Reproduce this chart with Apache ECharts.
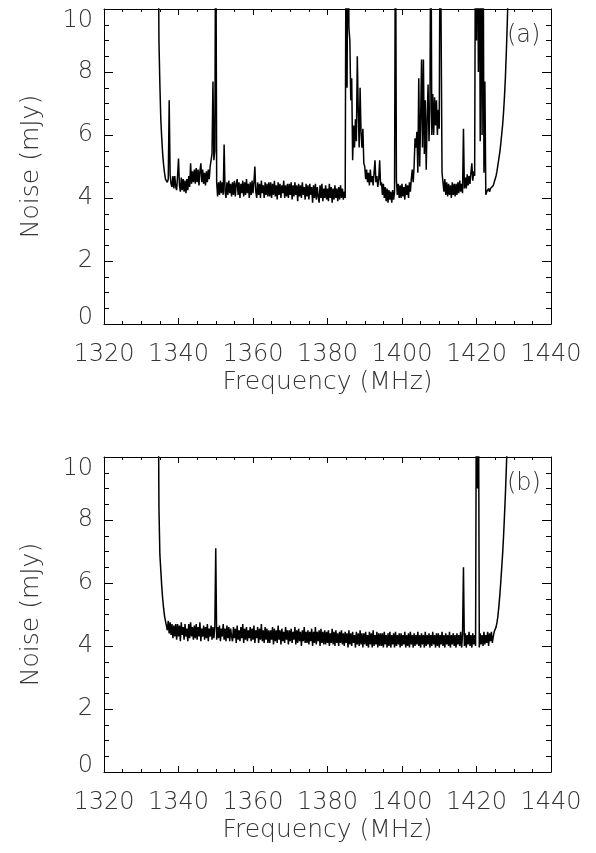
<!DOCTYPE html>
<html>
<head>
<meta charset="utf-8">
<script src="https://cdn.jsdelivr.net/npm/echarts@6/dist/echarts.min.js"></script>
<style>
  html, body { margin: 0; padding: 0; background: #fff; }
  #chart { width: 596px; height: 853px; }
</style>
</head>
<body>
<div id="chart"></div>
<script>
const FREQ_RANGE = [1320, 1440];
const FREQ_TICK = 20;
const NOISE_RANGE = [0, 10];
const NOISE_TICK = 2;

// each row holds 20 channels of 0.25 MHz, rows start every 5 MHz
const ROW_START = 1334.5;
const ROW_WIDTH = 5;
const CHANNEL_WIDTH = 0.25;

// (a) noise per channel
const noiseA = [
  [14, 9.0, 7.6, 6.5, 5.9, 5.4, 5.05, 4.8, 4.6, 4.55, 4.5, 4.6, 7.1, 4.75, 4.45, 4.35, 4.7, 4.3, 4.7, 4.35], // 1334.5
  [4.25, 4.7, 5.25, 4.4, 4.2, 4.65, 4.25, 4.6, 4.2, 4.55, 4.15, 4.6, 4.25, 4.7, 4.35, 5.1, 4.45, 4.85, 4.5, 4.9], // 1339.5
  [4.45, 4.95, 4.5, 4.9, 4.4, 4.85, 5.1, 4.5, 4.9, 4.45, 4.8, 4.4, 4.85, 4.5, 4.9, 4.6, 5.0, 5.2, 5.4, 7.7], // 1344.5
  [5.2, 5.5, 14, 4.5, 4.05, 4.5, 4.1, 4.55, 4.15, 4.5, 4.1, 5.7, 4.2, 4.0, 4.5, 4.1, 4.55, 4.15, 4.45, 4.05], // 1349.5
  [4.5, 4.1, 4.55, 4.05, 4.45, 4.6, 4.1, 4.5, 4.0, 4.45, 4.15, 4.55, 4.05, 4.5, 4.1, 4.6, 4.15, 4.45, 4.0, 4.5], // 1354.5
  [4.1, 4.55, 4.15, 4.5, 5.0, 4.2, 4.0, 4.5, 4.1, 4.45, 4.0, 4.55, 4.15, 4.4, 4.0, 4.5, 4.1, 4.45, 4.05, 4.5], // 1359.5
  [4.05, 4.5, 4.0, 4.45, 4.1, 4.55, 4.05, 4.4, 3.95, 4.5, 4.1, 4.45, 4.0, 4.4, 4.15, 4.55, 4.0, 4.4, 4.05, 4.45], // 1364.5
  [4.0, 4.45, 4.1, 4.5, 3.95, 4.4, 4.05, 4.5, 4.1, 4.4, 3.9, 4.45, 4.05, 4.4, 4.0, 4.5, 4.1, 4.35, 3.95, 4.45], // 1369.5
  [4.05, 4.4, 3.95, 4.45, 4.1, 4.35, 3.85, 4.4, 4.0, 4.45, 3.95, 4.35, 4.05, 3.85, 4.4, 4.0, 4.45, 3.9, 4.3, 4.0], // 1374.5
  [4.4, 3.95, 4.3, 3.9, 4.45, 4.0, 4.35, 3.85, 4.3, 3.95, 4.4, 4.0, 4.3, 3.9, 4.35, 3.95, 4.4, 4.0, 4.3, 3.95], // 1379.5
  [4.2, 4.0, 14, 7.5, 14, 9.4, 9.0, 7.1, 7.8, 5.2, 6.3, 5.6, 6.5, 5.8, 8.5, 6.8, 5.6, 7.5, 6.1, 5.6], // 1384.5
  [6.2, 5.1, 5.0, 4.6, 4.9, 4.5, 4.8, 4.4, 4.9, 4.5, 4.7, 4.4, 4.8, 5.2, 4.5, 4.7, 4.35, 4.6, 5.2, 4.4], // 1389.5
  [4.5, 4.1, 4.45, 4.0, 4.35, 3.9, 4.3, 3.85, 4.25, 3.95, 4.2, 3.85, 4.25, 3.95, 4.2, 14, 4.55, 4.1, 4.45, 4.0], // 1394.5
  [4.4, 4.0, 4.45, 4.05, 4.35, 3.95, 4.45, 4.1, 4.4, 4.0, 4.5, 4.2, 4.6, 4.9, 4.5, 5.0, 5.9, 5.6, 6.1, 4.8], // 1399.5
  [7.8, 5.0, 6.5, 8.4, 5.6, 8.4, 5.4, 7.1, 4.9, 6.5, 7.6, 5.8, 6.8, 14, 6.0, 7.3, 6.0, 7.2, 6.3, 7.1], // 1404.5
  [6.0, 6.8, 6.2, 14, 14, 4.8, 4.5, 4.2, 4.6, 4.1, 4.5, 4.05, 4.45, 4.1, 4.4, 4.0, 4.5, 4.1, 4.45, 4.05], // 1409.5
  [4.45, 4.1, 4.5, 4.15, 4.55, 4.2, 4.45, 4.15, 6.2, 4.3, 4.65, 4.3, 4.75, 4.4, 4.7, 4.45, 4.8, 5.1, 4.55, 4.85], // 1414.5
  [4.7, 14, 9.0, 14, 8.0, 14, 5.8, 14, 6.0, 14, 4.8, 7.7, 4.1, 4.2, 4.15, 4.3, 4.2, 4.3, 4.25, 4.35], // 1419.5
  [4.4, 4.5, 4.55, 4.7, 4.85, 5.05, 5.25, 5.45, 5.7, 6.0, 6.3, 6.7, 7.2, 7.8, 8.6, 9.5, 10.6, 12] // 1424.5
];

// (b) noise per channel
const noiseB = [
  [14, 8.4, 6.9, 6.4, 5.9, 5.5, 5.2, 4.95, 4.8, 4.75, 4.5, 4.8, 4.4, 4.75, 4.35, 4.7, 4.25, 4.65, 4.3, 4.7], // 1334.5
  [4.2, 4.7, 4.3, 4.65, 4.15, 4.75, 4.35, 4.6, 4.2, 4.7, 4.3, 4.55, 4.15, 4.7, 4.25, 4.75, 4.3, 4.6, 4.2, 4.65], // 1339.5
  [4.25, 4.7, 4.2, 4.6, 4.3, 4.75, 4.15, 4.55, 4.3, 4.65, 4.2, 4.6, 4.25, 4.7, 4.15, 4.55, 4.3, 4.65, 4.2, 4.6], // 1344.5
  [4.25, 4.6, 7.1, 4.2, 4.6, 4.25, 4.65, 4.15, 4.55, 4.3, 4.7, 4.2, 4.55, 4.15, 4.65, 4.25, 4.6, 4.15, 4.55, 4.3], // 1349.5
  [4.15, 4.6, 4.25, 4.55, 4.1, 4.65, 4.2, 4.5, 4.15, 4.6, 4.25, 4.7, 4.1, 4.55, 4.2, 4.6, 4.15, 4.5, 4.25, 4.6], // 1354.5
  [4.15, 4.55, 4.2, 4.65, 4.1, 4.5, 4.25, 4.6, 4.1, 4.55, 4.2, 4.7, 4.15, 4.5, 4.1, 4.6, 4.2, 4.55, 4.1, 4.5], // 1359.5
  [4.1, 4.5, 4.2, 4.6, 4.05, 4.55, 4.15, 4.5, 4.1, 4.65, 4.2, 4.5, 4.05, 4.55, 4.15, 4.45, 4.1, 4.6, 4.2, 4.5], // 1364.5
  [4.05, 4.5, 4.15, 4.55, 4.1, 4.45, 4.2, 4.6, 4.05, 4.5, 4.1, 4.55, 4.15, 4.45, 4.0, 4.5, 4.15, 4.6, 4.1, 4.45], // 1369.5
  [4.1, 4.5, 4.05, 4.45, 4.15, 4.55, 4.0, 4.45, 4.1, 4.6, 4.05, 4.45, 4.15, 4.5, 4.0, 4.55, 4.1, 4.45, 4.05, 4.5], // 1374.5
  [4.05, 4.45, 4.1, 4.5, 4.0, 4.4, 4.1, 4.55, 4.05, 4.45, 4.0, 4.5, 4.1, 4.4, 4.0, 4.45, 4.1, 4.5, 4.05, 4.4], // 1379.5
  [4.0, 4.45, 4.1, 4.4, 3.95, 4.5, 4.05, 4.4, 4.0, 4.45, 4.1, 4.35, 3.95, 4.45, 4.05, 4.4, 4.0, 4.5, 4.05, 4.4], // 1384.5
  [3.95, 4.4, 4.05, 4.45, 4.0, 4.35, 3.95, 4.45, 4.05, 4.4, 3.95, 4.5, 4.0, 4.35, 4.05, 4.45, 3.95, 4.4, 4.0, 4.4], // 1389.5
  [4.0, 4.4, 3.95, 4.45, 4.05, 4.35, 3.95, 4.4, 4.0, 4.45, 3.95, 4.35, 4.05, 4.4, 3.95, 4.45, 4.0, 4.35, 4.05, 4.4], // 1394.5
  [3.95, 4.4, 4.0, 4.35, 4.05, 4.45, 3.95, 4.35, 4.0, 4.4, 3.95, 4.45, 4.05, 4.35, 3.95, 4.4, 4.0, 4.35, 4.05, 4.45], // 1399.5
  [4.0, 4.35, 3.95, 4.4, 4.05, 4.35, 3.95, 4.45, 4.0, 4.35, 4.05, 4.4, 3.95, 4.35, 4.0, 4.45, 4.05, 4.35, 3.95, 4.4], // 1404.5
  [4.0, 4.4, 3.95, 4.35, 4.05, 4.45, 4.0, 4.35, 3.95, 4.4, 4.05, 4.35, 4.0, 4.45, 3.95, 4.35, 4.05, 4.4, 4.0, 4.35], // 1409.5
  [3.95, 4.4, 4.05, 4.35, 4.0, 4.45, 3.95, 4.35, 6.5, 4.0, 4.4, 3.95, 4.35, 4.05, 4.45, 4.0, 4.35, 3.95, 4.4, 4.05], // 1414.5
  [4.35, 4.0, 14, 9.0, 14, 3.95, 4.4, 4.05, 4.35, 4.0, 4.45, 4.05, 4.35, 4.1, 4.45, 4.0, 4.4, 4.15, 4.45, 4.1], // 1419.5
  [4.3, 4.45, 4.4, 4.6, 4.75, 4.95, 5.25, 5.6, 6.0, 6.45, 6.9, 7.45, 8.1, 8.8, 9.6, 10.5, 11.5, 13] // 1424.5
];

const PANEL_LABELS = ["(a)", "(b)"];

const FONT = "'DejaVu Sans ExtraLight', 'DejaVu Sans', sans-serif";
const TEXT_COLOR = "#333";

const toPoints = (rows) =>
  rows.flatMap((row, r) =>
    row.map((v, j) => [ROW_START + r * ROW_WIDTH + j * CHANNEL_WIDTH, v])
  );

const grids = [
  { left: 104, right: 45, top: 9, height: 315 },
  { left: 104, right: 45, top: 457, height: 315 },
];

const xAxisFor = (gridIndex, position) => ({
  type: "value",
  gridIndex,
  position,
  min: FREQ_RANGE[0],
  max: FREQ_RANGE[1],
  interval: FREQ_TICK,
  name: position === "bottom" ? "Frequency (MHz)" : "",
  nameLocation: "middle",
  nameGap: 46,
  nameTextStyle: { fontFamily: FONT, fontSize: 25, fontWeight: 200, color: TEXT_COLOR },
  axisLine: { show: true, onZero: false, lineStyle: { color: "#000", width: 1 } },
  axisTick: { show: true, inside: true, length: 6, lineStyle: { color: "#000" } },
  minorTick: { show: true, splitNumber: 4, length: 3, lineStyle: { color: "#000" } },
  axisLabel: {
    show: position === "bottom",
    margin: 19,
    fontFamily: FONT,
    fontSize: 24,
    fontWeight: 200,
    color: TEXT_COLOR,
    formatter: (v) => String(v),
  },
  splitLine: { show: false },
});

const yAxisFor = (gridIndex, position) => ({
  type: "value",
  gridIndex,
  position,
  min: NOISE_RANGE[0],
  max: NOISE_RANGE[1],
  interval: NOISE_TICK,
  name: position === "left" ? "Noise (mJy)" : "",
  nameLocation: "middle",
  nameGap: 60,
  nameTextStyle: { fontFamily: FONT, fontSize: 25, fontWeight: 200, color: TEXT_COLOR },
  axisLine: { show: true, onZero: false, lineStyle: { color: "#000", width: 1 } },
  axisTick: { show: true, inside: true, length: 9, lineStyle: { color: "#000" } },
  minorTick: { show: true, splitNumber: 4, length: 5, lineStyle: { color: "#000" } },
  axisLabel: {
    show: position === "left",
    margin: 11,
    fontFamily: FONT,
    fontSize: 24,
    fontWeight: 200,
    color: TEXT_COLOR,
    // IDL pulls the end labels inside the box
    formatter: (v) => (v === NOISE_RANGE[1] ? "{top|" + v + "}" : v === NOISE_RANGE[0] ? "{bot|" + v + "}" : "" + v),
    rich: {
      top: { fontFamily: FONT, fontSize: 24, fontWeight: 200, color: TEXT_COLOR, padding: [24, 0, 0, 0] },
      bot: { fontFamily: FONT, fontSize: 24, fontWeight: 200, color: TEXT_COLOR, padding: [0, 0, 12, 0] },
    },
  },
  splitLine: { show: false },
});

const lineSeries = (rows, i) => ({
  type: "line",
  xAxisIndex: i * 2,
  yAxisIndex: i * 2,
  data: toPoints(rows),
  showSymbol: false,
  symbol: "none",
  clip: true,
  lineStyle: { color: "#000", width: 1.5 },
  silent: true,
});

const chart = echarts.init(document.getElementById("chart"), null, { renderer: "canvas" });

chart.setOption({
  animation: false,
  backgroundColor: "#fff",
  grid: grids,
  xAxis: [
    xAxisFor(0, "bottom"),
    xAxisFor(0, "top"),
    xAxisFor(1, "bottom"),
    xAxisFor(1, "top"),
  ],
  yAxis: [
    yAxisFor(0, "left"),
    yAxisFor(0, "right"),
    yAxisFor(1, "left"),
    yAxisFor(1, "right"),
  ],
  series: [lineSeries(noiseA, 0), lineSeries(noiseB, 1)],
  graphic: PANEL_LABELS.map((text, i) => ({
    type: "text",
    left: 507,
    top: grids[i].top + 15,
    style: { text, fontFamily: FONT, fontSize: 24, fontWeight: 200, fill: TEXT_COLOR },
  })),
});
</script>
</body>
</html>
